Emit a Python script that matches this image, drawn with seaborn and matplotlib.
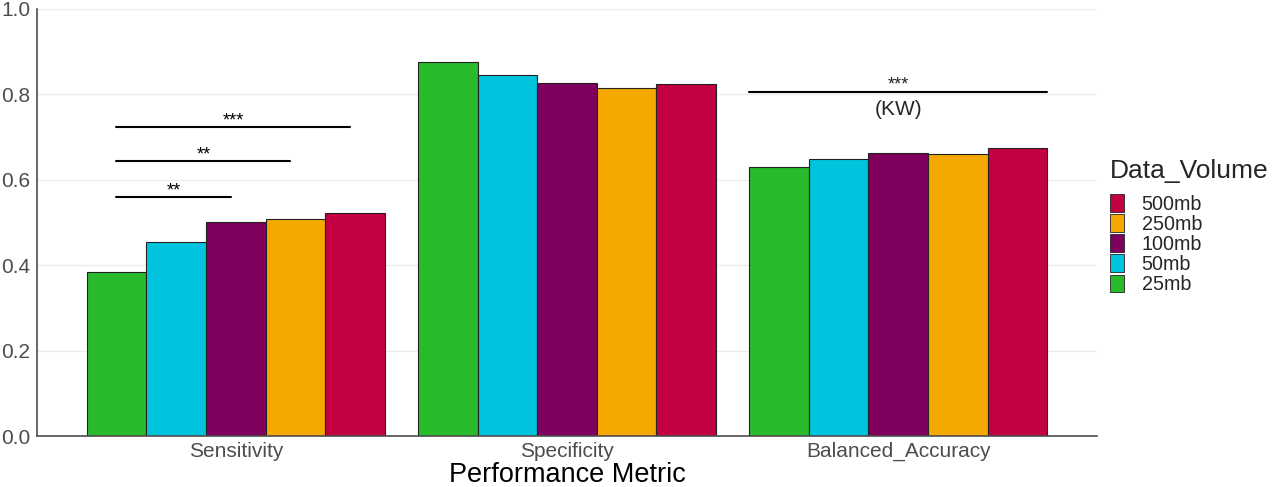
import pandas as pd
import numpy as np
import matplotlib
matplotlib.use("Agg")
import matplotlib.pyplot as plt
import seaborn as sns
from matplotlib.patches import Patch

# values
metrics = ["Sensitivity", "Specificity", "Balanced_Accuracy"]
volumes = ["25mb", "50mb", "100mb", "250mb", "500mb"]
sensitivity = [0.383, 0.453, 0.500, 0.508, 0.522]
specificity = [0.874, 0.845, 0.826, 0.815, 0.823]
balanced_acc = [0.629, 0.648, 0.662, 0.660, 0.674]
colors = ["#29BB2C", "#00C3DD", "#80005E", "#F5A800", "#C30041"]

# significance brackets: metric, first volume, last volume, height, label
sig_metric = ["Sensitivity", "Sensitivity", "Sensitivity"]
sig_start = ["25mb", "25mb", "25mb"]
sig_end = ["100mb", "250mb", "500mb"]
sig_y = [0.559, 0.643, 0.722]
sig_label = ["**", "**", "***"]
kw_metric = "Balanced_Accuracy"
kw_y = 0.804

df = pd.DataFrame({
    "Metric": np.repeat(metrics, len(volumes)),
    "Data_Volume": volumes * len(metrics),
    "Value": sensitivity + specificity + balanced_acc,
})

sns.set_style("white")
plt.rcParams["font.family"] = ["Liberation Sans", "DejaVu Sans"]

fig = plt.figure(figsize=(12.8, 4.87), dpi=100)
ax = fig.add_axes([0.0289, 0.1047, 0.8281, 0.8778])

sns.barplot(data=df, x="Metric", y="Value", hue="Data_Volume",
            order=metrics, hue_order=volumes, palette=colors, saturation=1,
            width=0.9, gap=0, edgecolor="#222222", linewidth=0.8,
            errorbar=None, legend=False, ax=ax, zorder=2)

ax.set_xlim(-0.6, 2.6)
ax.set_ylim(0, 1.0)
ax.set_yticks([0, 0.2, 0.4, 0.6, 0.8, 1.0])
ax.set_yticklabels(["0.0", "0.2", "0.4", "0.6", "0.8", "1.0"])
ax.yaxis.grid(True, color="#EBEBEB", linewidth=1.0, zorder=0)
ax.set_axisbelow(True)
ax.tick_params(axis="both", length=0, labelsize=15, labelcolor="#4D4D4D")
ax.tick_params(axis="y", pad=5)
ax.tick_params(axis="x", pad=4)
ax.set_xlabel("Performance Metric", fontsize=19.5, color="black", labelpad=0.5)
ax.set_ylabel("")
for side in ["top", "right"]:
    ax.spines[side].set_visible(False)
for side in ["left", "bottom"]:
    ax.spines[side].set_color("#4D4D4D")
    ax.spines[side].set_linewidth(1.2)

bar_w = 0.9 / len(volumes)
def bar_center(metric, vol):
    return metrics.index(metric) - 0.45 + bar_w * (volumes.index(vol) + 0.5)

for m, s, e, y, lab in zip(sig_metric, sig_start, sig_end, sig_y, sig_label):
    x0, x1 = bar_center(m, s), bar_center(m, e) - 0.015
    ax.plot([x0, x1], [y, y], color="black", linewidth=1.5, zorder=3)
    ax.text((x0 + x1) / 2, y - 0.006, lab, ha="center", va="bottom",
            fontsize=13, color="black")

gx = metrics.index(kw_metric)
ax.plot([gx - 0.45, gx + 0.45], [kw_y, kw_y], color="black", linewidth=1.5, zorder=3)
ax.text(gx, kw_y - 0.002, "***", ha="center", va="bottom", fontsize=13)
ax.text(gx, kw_y - 0.018, "(KW)", ha="center", va="top", fontsize=15)

handles = [Patch(facecolor=c, edgecolor="#222222", linewidth=0.6, label=v)
           for c, v in zip(colors, volumes)][::-1]
leg = ax.legend(handles=handles, title="Data_Volume", loc="center left",
                bbox_to_anchor=(1.005, 0.49), frameon=False, fontsize=14.2,
                title_fontsize=19, labelspacing=0.03, handlelength=0.7,
                handleheight=1.0, handletextpad=0.9, borderaxespad=0)
leg._legend_box.align = "left"
leg._legend_box.sep = 8

fig.savefig("out.png", dpi=100)
